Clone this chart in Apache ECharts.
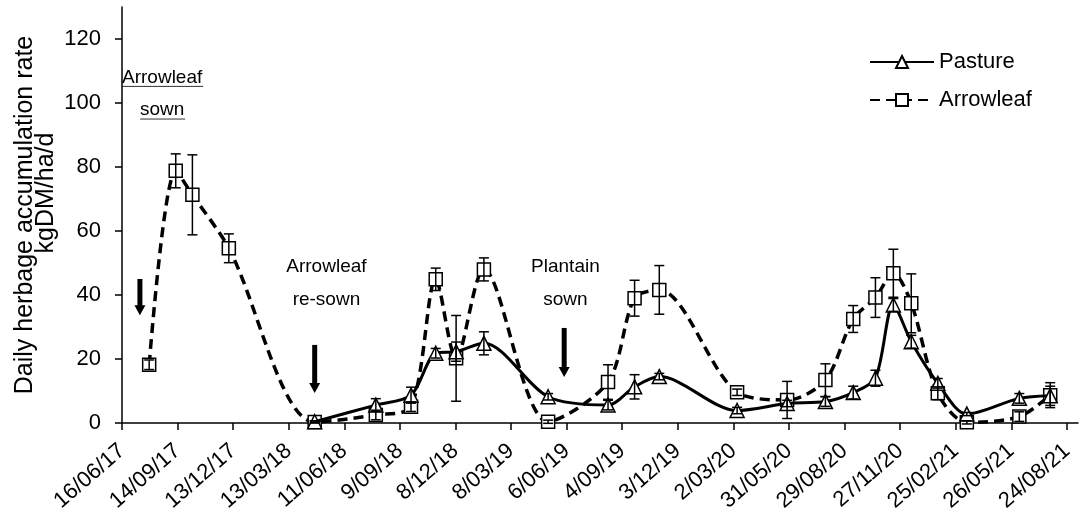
<!DOCTYPE html>
<html>
<head>
<meta charset="utf-8">
<script src="https://cdn.jsdelivr.net/npm/echarts@6/dist/echarts.min.js"></script>
<style>
html,body{margin:0;padding:0;background:#fff;}
#chart{width:1083px;height:510px;}
</style>
</head>
<body>
<div id="chart"></div>
<script>
// ---------- data ----------
const xTickLabels = ['16/06/17','14/09/17','13/12/17','13/03/18','11/06/18','9/09/18','8/12/18','8/03/19','6/06/19','4/09/19','3/12/19','2/03/20','31/05/20','29/08/20','27/11/20','25/02/21','26/05/21','24/08/21'];
const yTickValues = [0,20,40,60,80,100,120];

const arrowleafDates = ['2017-07-30','2017-09-11','2017-10-08','2017-12-06','2018-04-24','2018-08-01','2018-09-27','2018-11-06','2018-12-09','2019-01-23','2019-05-07','2019-08-12','2019-09-24','2019-11-03','2020-03-08','2020-05-28','2020-07-29','2020-09-12','2020-10-18','2020-11-16','2020-12-15','2021-01-27','2021-03-15','2021-06-08','2021-07-28'];
const arrowleafValues = [18.2,78.8,71.3,54.6,0.3,2.5,5.1,44.9,20.2,48.0,0.4,12.8,39.0,41.6,9.6,7.2,13.4,32.5,39.2,46.8,37.4,9.3,0.2,2.0,8.7];
const arrowleafErr = [1.5,5.3,12.5,4.5,0.3,1.5,1.5,3.5,13.4,3.6,0.5,5.4,5.6,7.6,1.0,5.8,5.1,4.2,6.2,7.5,9.2,2.0,0.5,1.5,3.9];

const pastureDates = ['2018-04-24','2018-08-01','2018-09-27','2018-11-06','2018-12-09','2019-01-23','2019-05-07','2019-08-12','2019-09-24','2019-11-03','2020-03-08','2020-05-28','2020-07-29','2020-09-12','2020-10-18','2020-11-16','2020-12-15','2021-01-27','2021-03-15','2021-06-08','2021-07-28'];
const pastureValues = [0.4,5.6,8.7,21.8,22.3,24.9,8.2,5.6,11.3,14.5,3.9,6.1,6.7,9.5,14.0,36.9,25.4,12.4,2.8,7.7,8.5];
const pastureErr = [0.3,2.0,2.5,1.5,3.0,3.6,1.0,1.5,3.8,1.0,1.0,1.0,1.5,2.0,2.5,2.0,2.0,1.5,0.5,1.5,3.0];

// annotations (data coordinates: date, value)
const textNotes = [
  {text:'Arrowleaf', date:'2017-08-20', value:108, underline:[-40,41]},
  {text:'sown', date:'2017-08-20', value:97.8, underline:[-22,23]},
  {text:'Arrowleaf', date:'2018-05-13', value:48.8},
  {text:'re-sown', date:'2018-05-13', value:38.4},
  {text:'Plantain', date:'2019-06-04', value:48.8},
  {text:'sown', date:'2019-06-04', value:38.4}
];
const arrowNotes = [
  {date:'2017-07-15', from:45, to:33.7},
  {date:'2018-04-24', from:24.4, to:9.4},
  {date:'2019-06-02', from:29.7, to:14.4}
];

// ---------- helpers ----------
const DAY = 86400000;
function parseTick(s){ const p=s.split('/'); return Date.UTC(2000+ +p[2], +p[1]-1, +p[0]); }
function parseIso(s){ const p=s.split('-'); return Date.UTC(+p[0], +p[1]-1, +p[2]); }
const origin = parseTick(xTickLabels[0]);
const toDay = s => Math.round((parseIso(s)-origin)/DAY);
const tickDays = xTickLabels.map(s => Math.round((parseTick(s)-origin)/DAY));
const labelByDay = {}; tickDays.forEach((d,i)=>labelByDay[d]=xTickLabels[i]);

const pastureData = pastureDates.map((d,i)=>[toDay(d), pastureValues[i]]);
const arrowleafData = arrowleafDates.map((d,i)=>[toDay(d), arrowleafValues[i]]);
const pastureErrData = pastureDates.map((d,i)=>[toDay(d), pastureValues[i]-pastureErr[i], pastureValues[i]+pastureErr[i]]);
const arrowleafErrData = arrowleafDates.map((d,i)=>[toDay(d), arrowleafValues[i]-arrowleafErr[i], arrowleafValues[i]+arrowleafErr[i]]);

function errRender(params, api){
  const x = api.value(0), lo = api.value(1), hi = api.value(2);
  const a = api.coord([x, hi]), b = api.coord([x, lo]);
  const h = 5;
  const st = {stroke:'#000', lineWidth:1.5};
  return {type:'group', children:[
    {type:'line', shape:{x1:a[0],y1:a[1],x2:b[0],y2:b[1]}, style:st},
    {type:'line', shape:{x1:a[0]-h,y1:a[1],x2:a[0]+h,y2:a[1]}, style:st},
    {type:'line', shape:{x1:b[0]-h,y1:b[1],x2:b[0]+h,y2:b[1]}, style:st}
  ]};
}

const FONT = '"Liberation Sans", Arial, sans-serif';
const chart = echarts.init(document.getElementById('chart'));
const xMax = tickDays[tickDays.length-1] + 18;

chart.setOption({
  animation:false,
  backgroundColor:'#fff',
  textStyle:{fontFamily:FONT, color:'#000'},
  grid:{left:122, right:5, top:7, bottom:87, containLabel:false, outerBoundsMode:'none'},
  legend:{
    orient:'vertical', left:864, top:46, itemGap:16,
    itemWidth:64, itemHeight:15,
    textStyle:{fontFamily:FONT, fontSize:22, color:'#000'},
    data:['Pasture','Arrowleaf']
  },
  xAxis:{
    type:'value', min:0, max:xMax,
    splitLine:{show:false},
    axisLine:{lineStyle:{color:'#000', width:1.5}},
    axisTick:{length:7, lineStyle:{color:'#000', width:1.5}, customValues:tickDays},
    axisLabel:{rotate:41, margin:25, fontSize:22, fontFamily:FONT, color:'#000',
      customValues:tickDays, formatter:v=>labelByDay[v]||''}
  },
  yAxis:{
    type:'value', min:0, max:130,
    splitLine:{show:false},
    axisLine:{show:true, lineStyle:{color:'#000', width:1.5}},
    axisTick:{show:true, length:7, lineStyle:{color:'#000', width:1.5}, customValues:yTickValues},
    axisLabel:{margin:21, fontSize:22, fontFamily:FONT, color:'#000', customValues:yTickValues}
  },
  series:[
    {name:'Pasture', type:'line', data:pastureData, smooth:0.3,
      symbol:'triangle', symbolSize:14,
      lineStyle:{color:'#000', width:3},
      itemStyle:{color:'#fff', borderColor:'#000', borderWidth:1.5},
      z:3},
    {name:'Arrowleaf', type:'line', data:arrowleafData, smooth:0.3,
      symbol:'rect', symbolSize:13,
      lineStyle:{color:'#000', width:3.5, type:[10,6]},
      itemStyle:{color:'#fff', borderColor:'#000', borderWidth:1.5},
      z:2},
    {name:'PastureErr', type:'custom', data:pastureErrData, renderItem:errRender, z:5, silent:true},
    {name:'ArrowleafErr', type:'custom', data:arrowleafErrData, renderItem:errRender, z:5, silent:true}
  ]
});

// annotations built from data coordinates
const px = (d,v) => chart.convertToPixel({gridIndex:0}, [toDay(d), v]);
const graphics = [];
// y-axis title
graphics.push({type:'text', x:25, y:215, rotation:Math.PI/2,
  style:{text:'Daily herbage accumulation rate', font:'25px '+FONT, fill:'#000', align:'center', verticalAlign:'middle'}});
graphics.push({type:'text', x:46, y:193, rotation:Math.PI/2,
  style:{text:'kgDM/ha/d', font:'25px '+FONT, fill:'#000', align:'center', verticalAlign:'middle'}});
textNotes.forEach(n=>{
  const p = px(n.date, n.value);
  graphics.push({type:'text', x:p[0], y:p[1],
    style:{text:n.text, font:'19px '+FONT, fill:'#000', align:'center', verticalAlign:'middle'}});
  if(n.underline){
    graphics.push({type:'line', shape:{x1:p[0]+n.underline[0], y1:p[1]+9, x2:p[0]+n.underline[1], y2:p[1]+9},
      style:{stroke:'#333', lineWidth:1}});
  }
});
arrowNotes.forEach(a=>{
  const t = px(a.date, a.from), b = px(a.date, a.to);
  const headH = 10, shaftW = 5, headW = 11;
  graphics.push({type:'rect', shape:{x:t[0]-shaftW/2, y:t[1], width:shaftW, height:b[1]-t[1]-headH+1}, style:{fill:'#000'}});
  graphics.push({type:'polygon', shape:{points:[[b[0]-headW/2,b[1]-headH],[b[0]+headW/2,b[1]-headH],[b[0],b[1]]]}, style:{fill:'#000'}});
});
chart.setOption({graphic:graphics});
</script>
</body>
</html>
